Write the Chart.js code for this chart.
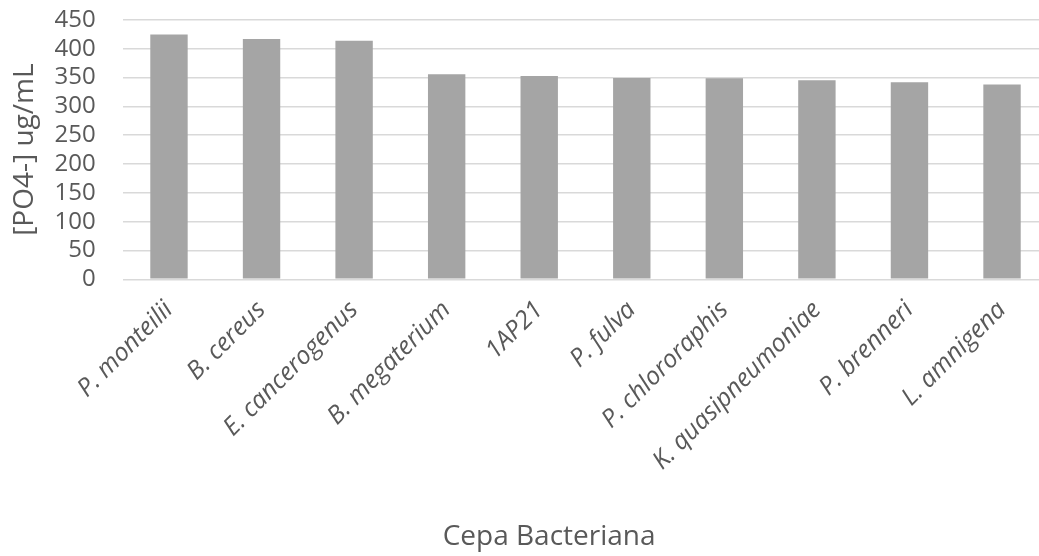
<!DOCTYPE html>
<html>
<head>
<meta charset="utf-8">
<script src="https://cdn.jsdelivr.net/npm/chart.js@4/dist/chart.umd.min.js"></script>
<style>
  html, body { margin: 0; padding: 0; background: #ffffff; overflow: hidden; }
  #wrap { position: absolute; left: 0; top: 0; width: 1060px; height: 556px; }
</style>
</head>
<body>
<div id="wrap"><canvas id="c" width="1060" height="556" style="width:1060px;height:556px"></canvas></div>
<script>
const categories = ["P. monteilii", "B. cereus", "E. cancerogenus", "B. megaterium", "1AP21",
                    "P. fulva", "P. chlororaphis", "K. quasipneumoniae", "P. brenneri", "L. amnigena"];
const phosphateValues = [425, 417, 414, 356, 353, 349.5, 349, 345.5, 342, 338];
const yTicks = [0, 50, 100, 150, 200, 250, 300, 350, 400, 450];
const yAxisTitle = "[PO4-] ug/mL";
const xAxisTitle = "Cepa Bacteriana";

const TEXT = '#595959';
const FONT = "'Open Sans', 'DejaVu Sans', sans-serif";

new Chart(document.getElementById('c'), {
  type: 'bar',
  data: {
    labels: categories,
    datasets: [{
      data: phosphateValues,
      backgroundColor: '#a5a5a5',
      borderWidth: 0,
      barPercentage: 0.404,
      categoryPercentage: 1.0
    }]
  },
  options: {
    responsive: false,
    animation: false,
    devicePixelRatio: 1,
    layout: { padding: { left: 50, right: 11.7, top: 20, bottom: 2 } },
    plugins: {
      legend: { display: false },
      tooltip: { enabled: false },
      title: {
        display: true,
        position: 'bottom',
        text: xAxisTitle,
        color: TEXT,
        font: { family: FONT, size: 28, weight: 'normal' },
        padding: { top: 0, bottom: 0 }
      }
    },
    scales: {
      x: {
        grid: { display: false, drawTicks: false },
        border: { display: false },
        ticks: {
          color: TEXT,
          font: { family: FONT, size: 25, style: 'italic' },
          minRotation: 45,
          maxRotation: 45,
          padding: 16,
          autoSkip: false
        },
        afterFit(scale) { scale.height = 556 - 2 - 33.6 - 279.3; }
      },
      y: {
        min: 0,
        max: 450,
        afterBuildTicks(scale) { scale.ticks = yTicks.map(v => ({ value: v })); },
        grid: { color: '#d9d9d9', lineWidth: 1.5, drawTicks: true, tickLength: 27, tickColor: 'rgba(0,0,0,0)' },
        border: { display: false },
        ticks: {
          color: TEXT,
          font: { family: FONT, size: 24, lineHeight: 1.0 },
          padding: 0,
          autoSkip: false
        },
        title: {
          display: true,
          text: yAxisTitle,
          color: TEXT,
          font: { family: FONT, size: 28 },
          padding: { top: -41.8, bottom: 0 }
        },
        afterFit(scale) { scale.width = 122.7 - 50; }
      }
    }
  }
});
</script>
</body>
</html>
